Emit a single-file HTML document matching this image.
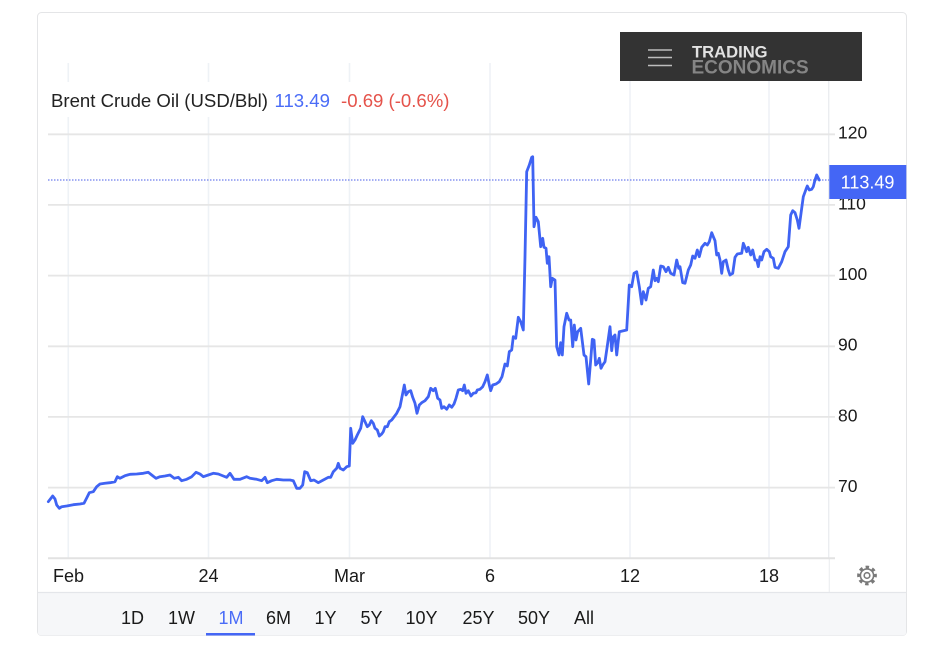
<!DOCTYPE html>
<html><head><meta charset="utf-8"><style>
html,body{margin:0;padding:0;background:#fff;}
svg{display:block;font-family:"Liberation Sans",Arial,sans-serif;}
</style></head><body>
<svg width="929" height="654" viewBox="0 0 929 654" xmlns="http://www.w3.org/2000/svg">
<defs><clipPath id="card"><rect x="37.5" y="12.5" width="869" height="623" rx="4"/></clipPath></defs>
<rect x="37.5" y="12.5" width="869" height="623" rx="4" fill="#fff" stroke="#e4e5e7"/>
<g clip-path="url(#card)">
<rect x="38" y="592.5" width="868" height="43" fill="#f6f7f9"/>
<line x1="38" y1="592.5" x2="906" y2="592.5" stroke="#e4e6ea" stroke-width="1.2"/>
</g>
<!-- vertical grid -->
<g stroke="#eef2f6" stroke-width="1.6">
<line x1="68.3" y1="63" x2="68.3" y2="558"/>
<line x1="208.5" y1="63" x2="208.5" y2="558"/>
<line x1="349.5" y1="63" x2="349.5" y2="558"/>
<line x1="490" y1="63" x2="490" y2="558"/>
<line x1="630" y1="63" x2="630" y2="558"/>
<line x1="769" y1="63" x2="769" y2="558"/>
</g>
<line x1="828.7" y1="63" x2="828.7" y2="558" stroke="#ebedf0" stroke-width="1.4"/>
<line x1="829.3" y1="559" x2="829.3" y2="592" stroke="#eceef1" stroke-width="1.2"/>
<!-- horizontal grid -->
<g stroke="#e6e6e6" stroke-width="1.8">
<line x1="48" y1="134.3" x2="835" y2="134.3"/>
<line x1="48" y1="204.9" x2="835" y2="204.9"/>
<line x1="48" y1="275.6" x2="835" y2="275.6"/>
<line x1="48" y1="346.3" x2="835" y2="346.3"/>
<line x1="48" y1="416.9" x2="835" y2="416.9"/>
<line x1="48" y1="487.6" x2="835" y2="487.6"/>
</g>
<line x1="48" y1="558.3" x2="835" y2="558.3" stroke="#e2e2e2" stroke-width="2"/>
<!-- title background -->
<rect x="48" y="82" width="412" height="35" fill="#fff"/>
<g font-size="18.6">
<text x="51" y="107" fill="#222">Brent Crude Oil (USD/Bbl)</text>
<text x="274.5" y="107" fill="#4a6cf7">113.49</text>
<text x="341" y="107" fill="#e5534b">-0.69 (-0.6%)</text>
</g>
<!-- logo -->
<rect x="620" y="32" width="242" height="49" fill="#333"/>
<g stroke="#bdbdbd" stroke-width="1.6">
<line x1="648" y1="50" x2="672" y2="50"/>
<line x1="648" y1="57.5" x2="672" y2="57.5"/>
<line x1="648" y1="65.5" x2="672" y2="65.5"/>
</g>
<text x="692" y="57.5" font-size="16.6" font-weight="bold" fill="#e2e2e2">TRADING</text>
<text x="691.5" y="73.5" font-size="19" font-weight="bold" fill="#858585">ECONOMICS</text>
<!-- y labels -->
<g font-size="17.5" fill="#1a1a1a">
<text x="838" y="138.7">120</text>
<text x="838" y="209.3">110</text>
<text x="838" y="280">100</text>
<text x="838" y="350.7">90</text>
<text x="838" y="421.3">80</text>
<text x="838" y="492">70</text>
</g>
<!-- dotted last price line -->
<line x1="48" y1="180" x2="829" y2="180" stroke="#4a5ee8" stroke-width="1" stroke-dasharray="1.5 1.5"/>
<!-- series -->
<polyline fill="none" stroke="#3f63f3" stroke-width="2.8" stroke-linejoin="round" stroke-linecap="round" points="48.3,501.7 52.7,496 55,499 56.7,505 59.3,508.3 61.7,506.7 66.7,506 73.3,504.7 80,504 84,503.3 86.7,498 89.3,492.7 93.3,491.7 96.7,486.7 100,484 105,483.3 110,482.7 115,481.7 117.3,476.7 120,478.3 125,475.7 130,474.3 136.7,474 143.3,473.3 148.3,472.3 151.7,475 156,478.3 160,476.7 165,476 170,475 174.3,478.3 178.3,477.3 181.7,480.7 186.7,479.3 191.7,476.7 196,472.3 200,474 203.3,476.7 208.3,475 213.3,473.3 218.3,474 223.3,476 226.7,477.3 230,473.3 234,479.3 240,479.3 246.7,476.7 250,478.3 256.7,479.3 261.7,480.7 265,477.3 267.3,482.7 271.7,480.7 276.7,479.3 283.3,480 290,480 293.3,480.7 296.7,488.3 300,488.3 302.7,485 304.7,471.7 307.3,472.7 310.7,480.7 314,480 318.3,482.7 323.3,480 328.3,477.3 330.7,477.3 333.3,471.7 336.7,468.3 338.3,463.3 340,468.3 343.3,470 346.7,466.7 349.3,466 350.7,428.3 352.7,443.3 355,440 357.3,435 360.7,428.3 362.7,416.7 365,421.7 367.3,426.7 369.3,425 371.3,420.7 373.3,423.3 375,428.3 377.3,430 379.3,436 381.7,434 383.3,431.7 385,426.7 387.3,426.7 389.3,421.7 391.7,420 396.7,413.3 400,406.7 402.7,393.3 404.3,385 406,395 408.3,391.7 410.7,390.7 412.7,397.3 415,403.3 417,413.3 419.3,405 421.7,402.7 425,400.7 428.3,396.7 430.7,388.3 433.3,390.7 435.3,388.3 437.7,398.3 440,400 441.7,408.3 444,406.7 446.7,409.3 449.3,405 451.7,407.3 454,404 456,398.3 458.3,390 460.7,389.3 462.7,390.7 464.3,385 466,393.3 468.3,390.7 471,396 473.3,393.3 476,392.7 477.3,390 480,389.3 482.7,386.7 485,381.7 487.3,375 489.3,385 490.7,390.7 492.7,385 496,384 499.3,381.7 502,376.7 505,364 507.3,366 509.3,351.7 511.7,350 513.3,336.7 515.7,338.3 518.3,317.3 520.7,321.7 523.3,330 525,256.7 526.7,171.7 529.3,165 531.7,157.3 532.7,156.7 534,226.7 536,217.3 538.3,221.7 540.7,246.7 542.7,238.3 544,247.3 546,248.3 547.3,263.3 549,256.7 550.7,286.7 552.3,278.3 555,280 556.7,346.7 559,355 560.7,342.7 562.3,355 564,326.7 566.7,313.3 569,320 570.7,320 572.7,346.7 574.3,325 576,340 577.7,331.7 580.7,328.3 584,355 586,356.7 588.7,384 590.7,360 592.3,339.3 594,340 595.7,365 597.7,362.7 599.3,358.3 601,368.3 602.7,365 605,361.7 607.3,346 610,326.7 611.7,350.7 613.3,336.7 615,335 616.7,355 619.3,331.7 626.7,330 629.3,285 631.7,286.7 634,273.3 636.7,271.7 639.3,286.7 641.7,304 643.3,291.7 646,300 648.3,288.3 650.7,286.7 653.3,270 655,280.7 656.7,278.3 658.3,281.7 660.7,266 663.3,266.7 666,271.7 668.3,267.3 670.7,273.3 674,275 676.7,260 678.7,268.3 680,266.7 682.7,282.7 685,283.3 688.3,270 690.7,265 692.7,256 695,258.3 697.3,250 699.3,256.7 701.7,247.3 705,243.3 707.3,245 709.3,241.7 711.7,232.7 713.3,236.7 715,240.7 716.7,255 718.3,253.3 720,260 721.7,273.3 723.3,261.7 726,260 728.3,270 730,275 732.7,273.3 735,257.3 737.3,254 741.7,253.3 743.3,243.3 745,247.3 746.7,251.7 748.3,247.3 750.7,255 752.7,250 755,260 756.7,260 758.3,266.7 760,256.7 761.7,260 764,251.7 766.7,249.3 769.3,251.7 770.7,256.7 773.3,258.3 775,267.3 778.3,268.3 781.7,261.7 785,251.7 788.3,246.7 790.7,215 792.7,210.7 795,212.7 797.3,220 799,228.3 801.7,208.3 803.3,196.7 806,189.3 807.3,186 809.3,190 811.7,189.3 813.3,186.7 815,180 816.7,175 819.3,180"/>
<!-- price label -->
<rect x="829.3" y="165" width="77" height="34" fill="#4466f5"/>
<text x="867.5" y="188.5" font-size="18" fill="#fff" text-anchor="middle">113.49</text>
<!-- x labels -->
<g font-size="18" fill="#1a1a1a" text-anchor="middle">
<text x="68.5" y="582">Feb</text>
<text x="208.5" y="582">24</text>
<text x="349.5" y="582">Mar</text>
<text x="490" y="582">6</text>
<text x="630" y="582">12</text>
<text x="769" y="582">18</text>
</g>
<!-- gear -->
<g transform="translate(867,575.5)" fill="none" stroke="#7a7a7a">
<circle r="8.3" stroke-width="3.2" stroke-dasharray="3.3 3.22" transform="rotate(-11)"/>
<circle r="6.6" stroke-width="1.6"/>
<circle r="2.8" stroke-width="1.6"/>
</g>
<!-- footer buttons -->
<g font-size="18" fill="#1a1a1a" text-anchor="middle">
<text x="132.5" y="624">1D</text>
<text x="181.5" y="624">1W</text>
<text x="231" y="624" fill="#4a6cf7">1M</text>
<text x="278.5" y="624">6M</text>
<text x="325.5" y="624">1Y</text>
<text x="371.5" y="624">5Y</text>
<text x="421.5" y="624">10Y</text>
<text x="478.5" y="624">25Y</text>
<text x="534" y="624">50Y</text>
<text x="584" y="624">All</text>
</g>
<rect x="206" y="633" width="49" height="2.5" fill="#4466f5"/>
</svg>
</body></html>
